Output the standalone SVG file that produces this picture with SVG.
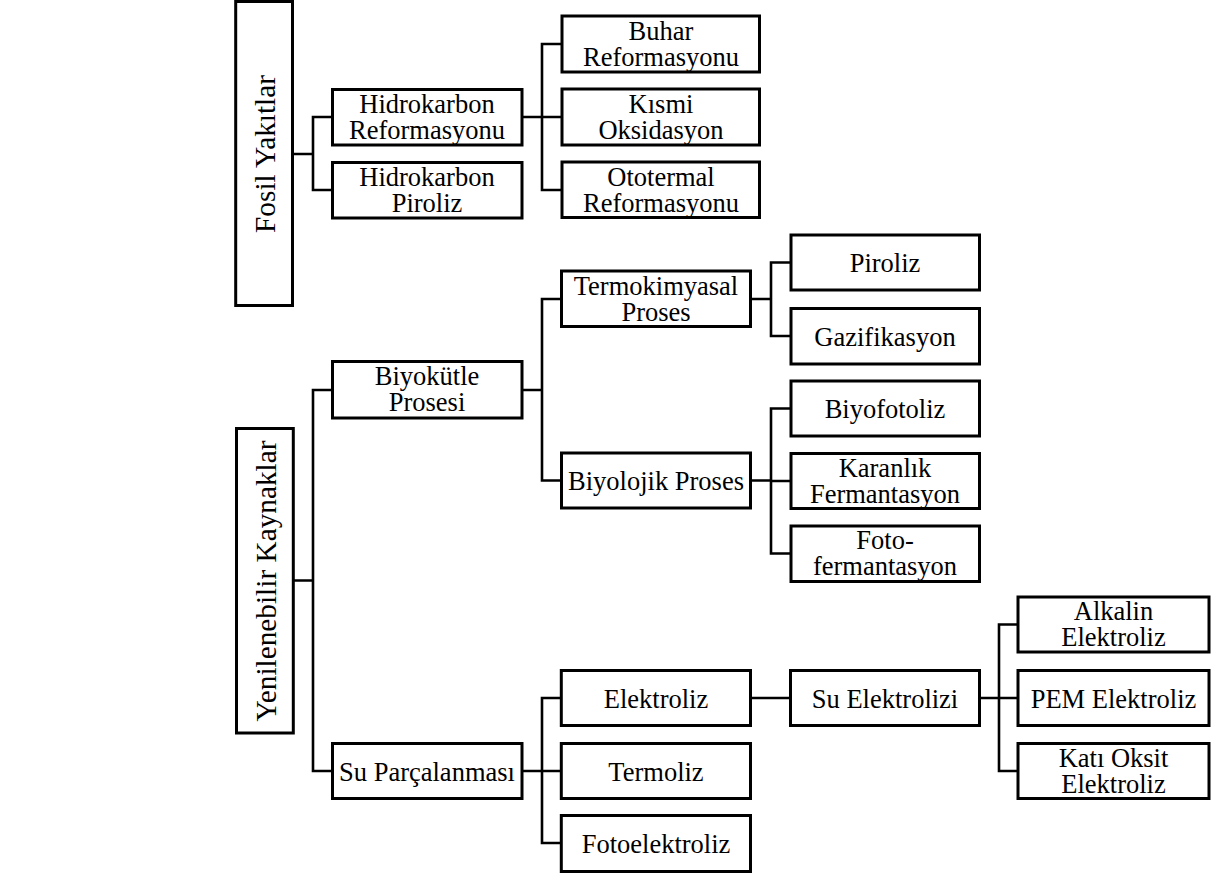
<svg xmlns="http://www.w3.org/2000/svg" width="1230" height="877" viewBox="0 0 1230 877">
<style>
.box{fill:#fff;stroke:#000;stroke-width:3}
.t{font-family:"Liberation Serif","Times New Roman",serif;font-size:26.5px;fill:#000;text-anchor:middle}
.v{font-family:"Liberation Serif","Times New Roman",serif;font-size:29.3px;fill:#000;text-anchor:middle}
.c{fill:none;stroke:#000;stroke-width:2.6;stroke-linecap:square}
</style>
<rect width="1230" height="877" fill="#fff"/>
<g id="connectors">
<path class="c" d="M293 154H313M313 117V190M313 117H332M313 190H332"/>
<path class="c" d="M522 117H542M542 44V190M542 44H562M542 117H562M542 190H562"/>
<path class="c" d="M293 580.5H313M313 390V771M313 390H332M313 771H332"/>
<path class="c" d="M522 390H542M542 299V480.5M542 299H562M542 480.5H562"/>
<path class="c" d="M750 299H771M771 262.5V336M771 262.5H791M771 336H791"/>
<path class="c" d="M750 480.5H771M771 408.5V553.5M771 408.5H791M771 481H791M771 553.5H791"/>
<path class="c" d="M522 771H542M542 698V843M542 698H562M542 771H562M542 843H562"/>
<path class="c" d="M750 698H790"/>
<path class="c" d="M979.5 698H999M999 624.5V771M999 624.5H1018M999 698H1018M999 771H1018"/>
</g>
<g id="fosil"><rect class="box" x="235.7" y="1.5" width="56.8" height="304"/><text class="v" transform="translate(275,154) rotate(-90)">Fosil Yakıtlar</text></g>
<g id="yenilenebilir"><rect class="box" x="236.5" y="428.5" width="56.8" height="304.5"/><text class="v" transform="translate(276,581) rotate(-90)">Yenilenebilir Kaynaklar</text></g>
<g id="hidrokarbon-reformasyonu"><rect class="box" x="332.5" y="89.5" width="189.5" height="55.5"/><text class="t" x="427" y="112.5">Hidrokarbon</text><text class="t" x="427" y="138.5">Reformasyonu</text></g>
<g id="hidrokarbon-piroliz"><rect class="box" x="332.5" y="162.5" width="189.5" height="55.5"/><text class="t" x="427" y="185.5">Hidrokarbon</text><text class="t" x="427" y="211.5">Piroliz</text></g>
<g id="buhar"><rect class="box" x="562" y="16" width="197.5" height="56"/><text class="t" x="661" y="39.5">Buhar</text><text class="t" x="661" y="65.5">Reformasyonu</text></g>
<g id="kismi"><rect class="box" x="562" y="89" width="197.5" height="56"/><text class="t" x="661" y="112.5">Kısmi</text><text class="t" x="661" y="138.5">Oksidasyon</text></g>
<g id="ototermal"><rect class="box" x="562" y="162" width="197.5" height="55.5"/><text class="t" x="661" y="185.5">Ototermal</text><text class="t" x="661" y="211.5">Reformasyonu</text></g>
<g id="biyokutle"><rect class="box" x="332.5" y="361.5" width="189.5" height="56.5"/><text class="t" x="427" y="385">Biyokütle</text><text class="t" x="427" y="411">Prosesi</text></g>
<g id="termokimyasal"><rect class="box" x="561.5" y="271" width="189" height="55.5"/><text class="t" x="656" y="294.5">Termokimyasal</text><text class="t" x="656" y="320.5">Proses</text></g>
<g id="biyolojik"><rect class="box" x="561.5" y="453" width="189" height="55"/><text class="t" x="656" y="490">Biyolojik Proses</text></g>
<g id="piroliz"><rect class="box" x="791" y="235" width="188.5" height="55"/><text class="t" x="885" y="272">Piroliz</text></g>
<g id="gazifikasyon"><rect class="box" x="791" y="308.5" width="188.5" height="55.5"/><text class="t" x="885" y="345.5">Gazifikasyon</text></g>
<g id="biyofotoliz"><rect class="box" x="791" y="381" width="188.5" height="55"/><text class="t" x="885" y="418">Biyofotoliz</text></g>
<g id="karanlik"><rect class="box" x="791" y="453.5" width="188.5" height="55"/><text class="t" x="885" y="476.5">Karanlık</text><text class="t" x="885" y="502.5">Fermantasyon</text></g>
<g id="fotofermantasyon"><rect class="box" x="791" y="526" width="188.5" height="55.5"/><text class="t" x="885" y="549">Foto-</text><text class="t" x="885" y="575">fermantasyon</text></g>
<g id="su-parcalanmasi"><rect class="box" x="332.5" y="743.5" width="189.5" height="55"/><text class="t" x="427" y="780.5">Su Parçalanması</text></g>
<g id="elektroliz"><rect class="box" x="561.3" y="670.5" width="189.2" height="55"/><text class="t" x="656" y="707.5">Elektroliz</text></g>
<g id="termoliz"><rect class="box" x="561.3" y="743.5" width="189.2" height="55"/><text class="t" x="656" y="780.5">Termoliz</text></g>
<g id="fotoelektroliz"><rect class="box" x="561.3" y="815.5" width="189.2" height="56"/><text class="t" x="656" y="852.5">Fotoelektroliz</text></g>
<g id="su-elektrolizi"><rect class="box" x="790.5" y="670.5" width="189" height="55"/><text class="t" x="885" y="707.5">Su Elektrolizi</text></g>
<g id="alkalin"><rect class="box" x="1018" y="597" width="191" height="55"/><text class="t" x="1113.5" y="620">Alkalin</text><text class="t" x="1113.5" y="646">Elektroliz</text></g>
<g id="pem"><rect class="box" x="1018" y="670.5" width="191" height="55"/><text class="t" x="1113.5" y="707.5">PEM Elektroliz</text></g>
<g id="kati-oksit"><rect class="box" x="1018" y="743.5" width="191" height="55"/><text class="t" x="1113.5" y="766.5">Katı Oksit</text><text class="t" x="1113.5" y="792.5">Elektroliz</text></g>
</svg>
